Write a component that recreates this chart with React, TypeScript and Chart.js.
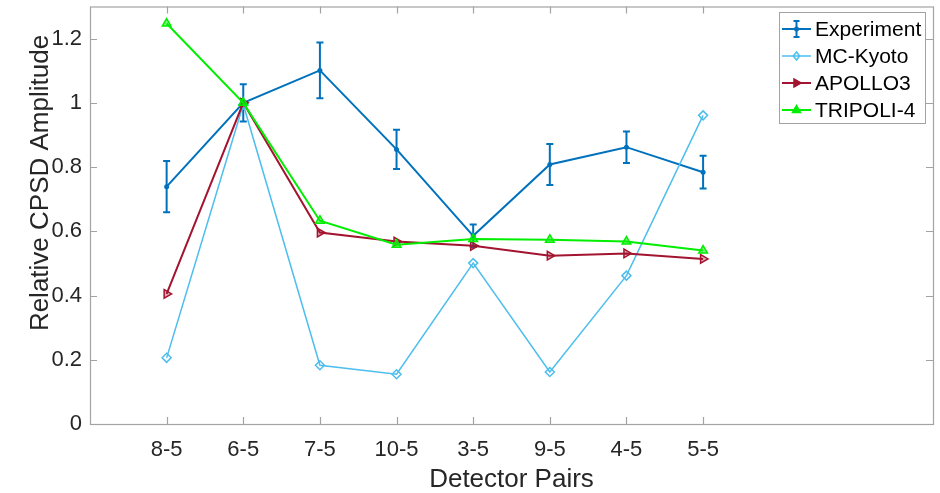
import React, { useEffect, useRef } from 'react';
import { Chart, registerables } from 'chart.js';

Chart.register(...registerables);

const categories = ['8-5', '6-5', '7-5', '10-5', '3-5', '9-5', '4-5', '5-5'];
const experiment = [0.739, 1.0, 1.101, 0.855, 0.586, 0.808, 0.862, 0.784];
const experimentErr = [0.08, 0.058, 0.087, 0.061, 0.035, 0.064, 0.049, 0.051];
const mcKyoto = [0.206, 0.995, 0.183, 0.155, 0.501, 0.162, 0.462, 0.961];
const apollo3 = [0.405, 1.0, 0.596, 0.568, 0.555, 0.524, 0.531, 0.514];
const tripoli4 = [1.247, 1.0, 0.633, 0.558, 0.576, 0.574, 0.568, 0.54];
const yTicks = [0, 0.2, 0.4, 0.6, 0.8, 1, 1.2];
const seriesNames = ['Experiment', 'MC-Kyoto', 'APOLLO3', 'TRIPOLI-4'];

const X_MIN = 0;
const X_MAX = 11;
const Y_MIN = 0;
const Y_MAX = 1.3;

const C_EXP = '#0072BD';
const C_MC = '#4DBEEE';
const C_AP = '#A2142F';
const C_TR = '#00EE00';
const C_AXIS = '#a3a3a3';
const C_TEXT = '#262626';
const FONT = '"Liberation Sans", Arial, Helvetica, sans-serif';

const toPts = (arr: number[]) => arr.map((v, i) => ({ x: i + 1, y: v }));

function drawMarker(ctx: CanvasRenderingContext2D, kind: string, x: number, y: number, color: string) {
  ctx.save();
  ctx.strokeStyle = color;
  ctx.fillStyle = color;
  ctx.lineWidth = 1.5;
  ctx.beginPath();
  if (kind === 'dot') {
    ctx.arc(x, y, 2.5, 0, Math.PI * 2);
    ctx.fill();
  } else if (kind === 'diamond') {
    ctx.moveTo(x, y - 4);
    ctx.lineTo(x + 3.2, y);
    ctx.lineTo(x, y + 4);
    ctx.lineTo(x - 3.2, y);
    ctx.closePath();
    ctx.stroke();
  } else if (kind === 'right') {
    ctx.moveTo(x + 4.5, y);
    ctx.lineTo(x - 2.5, y - 4);
    ctx.lineTo(x - 2.5, y + 4);
    ctx.closePath();
    ctx.fill();
    ctx.stroke();
  } else if (kind === 'up') {
    ctx.moveTo(x, y - 4.5);
    ctx.lineTo(x + 4, y + 2.5);
    ctx.lineTo(x - 4, y + 2.5);
    ctx.closePath();
    ctx.fill();
    ctx.stroke();
  }
  ctx.restore();
}

const matlabFrame = {
  id: 'matlabFrame',
  beforeDatasetsDraw(chart: any) {
    const { ctx } = chart;
    const x = chart.scales.x;
    const y = chart.scales.y;
    ctx.save();
    ctx.strokeStyle = C_EXP;
    ctx.lineWidth = 2;
    experiment.forEach((v, i) => {
      const px = x.getPixelForValue(i + 1);
      const top = y.getPixelForValue(v + experimentErr[i]);
      const bot = y.getPixelForValue(v - experimentErr[i]);
      ctx.beginPath();
      ctx.moveTo(px, top);
      ctx.lineTo(px, bot);
      ctx.moveTo(px - 3.5, top);
      ctx.lineTo(px + 3.5, top);
      ctx.moveTo(px - 3.5, bot);
      ctx.lineTo(px + 3.5, bot);
      ctx.stroke();
    });
    ctx.restore();
  },
  afterDraw(chart: any) {
    const { ctx, chartArea } = chart;
    const { left, right, top, bottom } = chartArea;
    const x = chart.scales.x;
    const y = chart.scales.y;
    ctx.save();
    // box
    ctx.strokeStyle = C_AXIS;
    ctx.lineWidth = 1.2;
    ctx.strokeRect(left + 0.5, top + 0.5, right - left, bottom - top);
    // inward ticks
    const tl = 7;
    ctx.beginPath();
    categories.forEach((_, i) => {
      const px = Math.round(x.getPixelForValue(i + 1)) + 0.5;
      ctx.moveTo(px, bottom);
      ctx.lineTo(px, bottom - tl);
      ctx.moveTo(px, top);
      ctx.lineTo(px, top + tl);
    });
    yTicks.forEach((v) => {
      const py = Math.round(y.getPixelForValue(v)) + 0.5;
      ctx.moveTo(left, py);
      ctx.lineTo(left + tl, py);
      ctx.moveTo(right, py);
      ctx.lineTo(right - tl, py);
    });
    ctx.stroke();

    // y title
    ctx.save();
    ctx.fillStyle = C_TEXT;
    ctx.font = `26px ${FONT}`;
    ctx.textAlign = 'center';
    ctx.textBaseline = 'middle';
    ctx.translate(41, 183);
    ctx.rotate(-Math.PI / 2);
    ctx.fillText('Relative CPSD Amplitude', 0, 0);
    ctx.restore();

    // legend
    const lx = 779, ly = 12, lw = 146, lh = 111;
    ctx.fillStyle = '#ffffff';
    ctx.fillRect(lx, ly, lw, lh);
    ctx.strokeStyle = C_AXIS;
    ctx.lineWidth = 1;
    ctx.strokeRect(lx + 0.5, ly + 0.5, lw, lh);
    const colors = [C_EXP, C_MC, C_AP, C_TR];
    const kinds = ['dot', 'diamond', 'right', 'up'];
    ctx.font = `21px ${FONT}`;
    ctx.textAlign = 'left';
    ctx.textBaseline = 'middle';
    seriesNames.forEach((name, i) => {
      const cy = 29 + i * 27;
      const x0 = 782, x1 = 811, xm = 796.5;
      ctx.strokeStyle = colors[i];
      ctx.lineWidth = i === 1 ? 1.5 : 2;
      ctx.beginPath();
      ctx.moveTo(x0, cy);
      ctx.lineTo(x1, cy);
      ctx.stroke();
      if (i === 0) {
        ctx.beginPath();
        ctx.moveTo(xm, cy - 8);
        ctx.lineTo(xm, cy + 8);
        ctx.moveTo(xm - 3, cy - 8);
        ctx.lineTo(xm + 3, cy - 8);
        ctx.moveTo(xm - 3, cy + 8);
        ctx.lineTo(xm + 3, cy + 8);
        ctx.stroke();
      }
      drawMarker(ctx, kinds[i], xm, cy, colors[i]);
      ctx.fillStyle = '#000000';
      ctx.fillText(name, 815, cy + 1);
    });
    ctx.restore();
  },
};

export default function App() {
  const ref = useRef<HTMLCanvasElement | null>(null);

  useEffect(() => {
    if (!ref.current) return;
    const chart = new Chart(ref.current, {
      type: 'line',
      data: {
        datasets: [
          {
            label: seriesNames[0],
            data: toPts(experiment),
            borderColor: C_EXP,
            backgroundColor: C_EXP,
            borderWidth: 2,
            pointStyle: 'circle',
            pointRadius: 2.5,
            pointBorderWidth: 0,
            order: 3,
          },
          {
            label: seriesNames[1],
            data: toPts(mcKyoto),
            borderColor: C_MC,
            backgroundColor: 'rgba(0,0,0,0)',
            borderWidth: 1.5,
            pointStyle: 'rectRot',
            pointRadius: 4.5,
            pointBorderWidth: 1.5,
            order: 2,
          },
          {
            label: seriesNames[2],
            data: toPts(apollo3),
            borderColor: C_AP,
            backgroundColor: 'rgba(162,20,47,0.35)',
            borderWidth: 2,
            pointStyle: 'triangle',
            pointRotation: 90,
            pointRadius: 5,
            pointBorderWidth: 1.5,
            order: 1,
          },
          {
            label: seriesNames[3],
            data: toPts(tripoli4),
            borderColor: C_TR,
            backgroundColor: 'rgba(0,238,0,0.5)',
            borderWidth: 2,
            pointStyle: 'triangle',
            pointRadius: 5,
            pointBorderWidth: 1.5,
            order: 0,
          },
        ],
      },
      options: {
        responsive: false,
        animation: false,
        devicePixelRatio: 1,
        layout: { padding: { left: 0, right: 7, top: 5, bottom: 0 } },
        plugins: { legend: { display: false }, tooltip: { enabled: false } },
        elements: { line: { tension: 0 } },
        scales: {
          x: {
            type: 'linear',
            min: X_MIN,
            max: X_MAX,
            grid: { display: false, drawTicks: false },
            border: { display: false },
            afterFit: (s: any) => {
              s.height = 69;
              s.paddingLeft = 0;
              s.paddingRight = 0;
            },
            afterBuildTicks: (s: any) => {
              s.ticks = categories.map((_, i) => ({ value: i + 1 }));
            },
            ticks: {
              padding: 13,
              color: C_TEXT,
              font: { family: FONT, size: 22 },
              maxRotation: 0,
              autoSkip: false,
              callback: (v: any) => categories[Number(v) - 1] ?? '',
            },
            title: {
              display: true,
              text: 'Detector Pairs',
              color: C_TEXT,
              font: { family: FONT, size: 26 },
              padding: { top: 0, bottom: -2 },
            },
          },
          y: {
            type: 'linear',
            min: Y_MIN,
            max: Y_MAX,
            grid: { display: false, drawTicks: false },
            border: { display: false },
            afterFit: (s: any) => {
              s.width = 90;
              s.paddingTop = 0;
              s.paddingBottom = 0;
            },
            afterBuildTicks: (s: any) => {
              s.ticks = yTicks.map((v) => ({ value: v }));
            },
            ticks: {
              padding: 8,
              color: C_TEXT,
              font: { family: FONT, size: 22 },
              callback: (v: any) => String(Number(Number(v).toFixed(1))),
            },
          },
        },
      },
      plugins: [matlabFrame],
    } as any);
    return () => chart.destroy();
  }, []);

  return (
    <div style={{ position: 'absolute', left: 0, top: 0, width: 940, height: 493, background: '#fff' }}>
      <canvas ref={ref} width={940} height={493} />
    </div>
  );
}
